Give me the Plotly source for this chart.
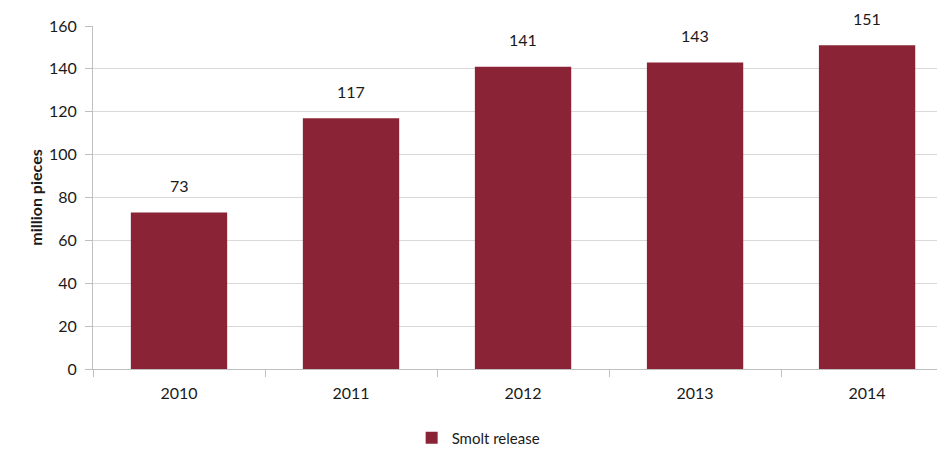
import plotly.graph_objects as go

years = ["2010", "2011", "2012", "2013", "2014"]
smolt_release = [73, 117, 141, 143, 151]
series_name = "Smolt release"
y_title = "million pieces"

bar_color = "#8A2335"
font_family = "Lato, Open Sans, sans-serif"

fig = go.Figure()
fig.add_trace(go.Bar(
    x=years, y=smolt_release, name=series_name,
    marker=dict(color=bar_color, line=dict(width=0)),
    width=0.56, showlegend=True,
))

for i, v in enumerate(smolt_release):
    fig.add_annotation(x=i, y=v, xref="x", yref="y", text=str(v), showarrow=False,
                       yshift=27, font=dict(size=16, color="#1a1a1a", family=font_family))

fig.update_layout(
    width=937, height=441,
    margin=dict(l=85, r=0, t=18, b=80, autoexpand=False),
    paper_bgcolor="white", plot_bgcolor="white",
    font=dict(family=font_family, size=15, color="#1a1a1a"),
    legend=dict(orientation="h", x=0.374, xanchor="left",
                yref="container", y=0.025, yanchor="middle",
                font=dict(size=15), itemwidth=30),
    xaxis=dict(
        type="category", range=[-0.5, 4.453], automargin=False,
        showline=True, linecolor="#bfbfbf", linewidth=1,
        ticks="outside", tickson="boundaries", ticklen=7, tickcolor="#bfbfbf",
        showgrid=False, tickfont=dict(size=16), ticklabelstandoff=10,
    ),
    yaxis=dict(
        range=[0, 160], dtick=20, automargin=False,
        showline=True, linecolor="#bfbfbf", linewidth=1,
        ticks="outside", ticklen=7, tickcolor="#bfbfbf",
        gridcolor="#d9d9d9", gridwidth=1, zeroline=False,
        tickfont=dict(size=16), ticklabelstandoff=5,
        title=dict(text="<b>" + y_title + "</b>", font=dict(size=16), standoff=2),
    ),
)

fig.write_html("out.html")
